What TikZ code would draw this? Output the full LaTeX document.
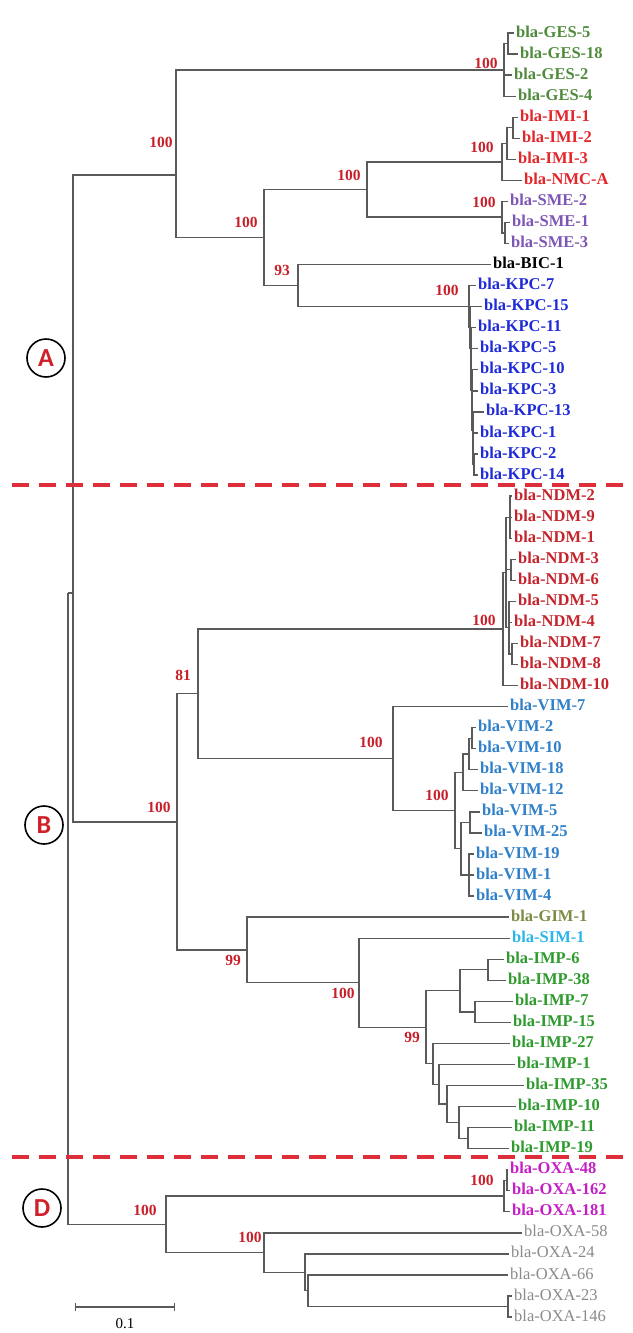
\documentclass[tikz,border=0pt]{standalone}
\usepackage{fontspec}
\setmainfont{Liberation Serif}
\newfontfamily\circfont{Carlito}
\usetikzlibrary{arrows.meta}
\definecolor{treegray}{HTML}{5A5A5A}
\definecolor{bootred}{HTML}{C8202A}
\definecolor{dashred}{HTML}{DD2E3A}
\definecolor{cladered}{HTML}{D0202A}
\definecolor{gesgreen}{HTML}{4F8B3B}
\definecolor{imired}{HTML}{E3262B}
\definecolor{smepurple}{HTML}{7D55B5}
\definecolor{kpcblue}{HTML}{1F2BD6}
\definecolor{ndmred}{HTML}{C4242B}
\definecolor{vimblue}{HTML}{2F80C8}
\definecolor{gimolive}{HTML}{7A8C45}
\definecolor{simcyan}{HTML}{2BB5EA}
\definecolor{impgreen}{HTML}{2E9B2E}
\definecolor{oxamag}{HTML}{C41FC4}
\definecolor{oxagray}{HTML}{8A8A8A}
\begin{document}
\begin{tikzpicture}[x=1pt,y=-1pt,
  branch/.style={draw=treegray, line width=1.3pt},
  leaf/.style={anchor=west, inner xsep=2pt, inner ysep=0pt, text height=11pt, text depth=3pt, font=\fontsize{16.5}{18}\selectfont\bfseries},
  leafplain/.style={leaf, font=\fontsize{16.5}{18}\selectfont},
  boot/.style={text=bootred, inner sep=0pt, font=\fontsize{15.5}{17}\selectfont\bfseries},
  clade/.style={circle, draw=black, line width=1.6pt, minimum size=38pt, inner sep=0pt, text=cladered, font=\circfont\bfseries\fontsize{26}{26}\selectfont},
  sepline/.style={draw=dashred, line width=3.2pt, dash pattern=on 17pt off 10pt},
  scalebar/.style={draw=treegray, line width=1.3pt, {Bar[width=8pt]}-{Bar[width=8pt]}}
]
\useasboundingbox (0,0) rectangle (632,1333);

% ---------- internal nodes ----------
\coordinate (root) at (68,593);
\coordinate (AB) at (73,593);
\coordinate (A) at (176,175);
\coordinate (G) at (504,70);
\coordinate (G1) at (508,43.5);
\coordinate (X) at (264,237.6);
\coordinate (IS) at (367,189.5);
\coordinate (I) at (502,162);
\coordinate (I1) at (507,143.5);
\coordinate (I2) at (513,127.7);
\coordinate (S) at (502,217);
\coordinate (S1) at (505,233);
\coordinate (BK) at (298,285.6);
\coordinate (K1) at (469,306.6);
\coordinate (K2) at (470,327.6);
\coordinate (K3) at (471,348.6);
\coordinate (K4) at (471,369.5);
\coordinate (K5) at (472,390.2);
\coordinate (K6) at (472,410.6);
\coordinate (K7) at (473,430.3);
\coordinate (K8) at (473,448.8);
\coordinate (K9) at (474,464.5);

\coordinate (B) at (177,821.9);
\coordinate (NV) at (198,693.8);
\coordinate (N) at (503,629);
\coordinate (N1) at (506,572.5);
\coordinate (Na) at (510,517.2);
\coordinate (Nc) at (511,569.8);
\coordinate (Nd) at (509,627.7);
\coordinate (Ne) at (512,654);
\coordinate (V) at (393,758.6);
\coordinate (V2) at (455,810.5);
\coordinate (V3) at (463,772.4);
\coordinate (V4) at (469,754);
\coordinate (V5) at (472,738.2);
\coordinate (V6) at (461,848.7);
\coordinate (V7) at (470,822.4);
\coordinate (V8) at (469,875);
\coordinate (GIS) at (247,949.9);
\coordinate (SI) at (359,982.7);
\coordinate (P) at (426,1027.3);
\coordinate (P1) at (460,990.8);
\coordinate (P2) at (488,969.8);
\coordinate (P3) at (475,1011.9);
\coordinate (P4) at (433,1063.8);
\coordinate (P5) at (439,1084.2);
\coordinate (P6) at (447,1104);
\coordinate (P7) at (459,1122.4);
\coordinate (P8) at (468,1138.2);

\coordinate (Dn) at (166,1224.3);
\coordinate (O1) at (504,1196);
\coordinate (O2) at (507,1180.3);
\coordinate (O3) at (264,1252.6);
\coordinate (O4) at (305,1272.4);
\coordinate (O5) at (308,1290.8);
\coordinate (O6) at (508,1306.6);

% ---------- leaves ----------
\node[leaf,text=gesgreen] (ges5) at (514,33.0) {bla-GES-5};
\node[leaf,text=gesgreen] (ges18) at (518,54.1) {bla-GES-18};
\node[leaf,text=gesgreen] (ges2) at (512,75.1) {bla-GES-2};
\node[leaf,text=gesgreen] (ges4) at (516,96.2) {bla-GES-4};
\node[leaf,text=imired] (imi1) at (518,117.2) {bla-IMI-1};
\node[leaf,text=imired] (imi2) at (520,138.3) {bla-IMI-2};
\node[leaf,text=imired] (imi3) at (516,159.3) {bla-IMI-3};
\node[leaf,text=imired] (nmca) at (522,180.4) {bla-NMC-A};
\node[leaf,text=smepurple] (sme2) at (508,201.4) {bla-SME-2};
\node[leaf,text=smepurple] (sme1) at (510,222.5) {bla-SME-1};
\node[leaf,text=smepurple] (sme3) at (509,243.5) {bla-SME-3};
\node[leaf,text=black] (bic1) at (491,264.6) {bla-BIC-1};
\node[leaf,text=kpcblue] (kpc7) at (476,285.6) {bla-KPC-7};
\node[leaf,text=kpcblue] (kpc15) at (482,306.7) {bla-KPC-15};
\node[leaf,text=kpcblue] (kpc11) at (476,327.7) {bla-KPC-11};
\node[leaf,text=kpcblue] (kpc5) at (478,348.8) {bla-KPC-5};
\node[leaf,text=kpcblue] (kpc10) at (478,369.8) {bla-KPC-10};
\node[leaf,text=kpcblue] (kpc3) at (478,390.9) {bla-KPC-3};
\node[leaf,text=kpcblue] (kpc13) at (484,411.9) {bla-KPC-13};
\node[leaf,text=kpcblue] (kpc1) at (478,433.0) {bla-KPC-1};
\node[leaf,text=kpcblue] (kpc2) at (478,454.0) {bla-KPC-2};
\node[leaf,text=kpcblue] (kpc14) at (478,475.1) {bla-KPC-14};

\node[leaf,text=ndmred] (ndm2) at (512,496.1) {bla-NDM-2};
\node[leaf,text=ndmred] (ndm9) at (512,517.2) {bla-NDM-9};
\node[leaf,text=ndmred] (ndm1) at (512,538.2) {bla-NDM-1};
\node[leaf,text=ndmred] (ndm3) at (516,559.3) {bla-NDM-3};
\node[leaf,text=ndmred] (ndm6) at (516,580.3) {bla-NDM-6};
\node[leaf,text=ndmred] (ndm5) at (516,601.4) {bla-NDM-5};
\node[leaf,text=ndmred] (ndm4) at (512,622.4) {bla-NDM-4};
\node[leaf,text=ndmred] (ndm7) at (518,643.5) {bla-NDM-7};
\node[leaf,text=ndmred] (ndm8) at (518,664.5) {bla-NDM-8};
\node[leaf,text=ndmred] (ndm10) at (518,685.6) {bla-NDM-10};
\node[leaf,text=vimblue] (vim7) at (508,706.6) {bla-VIM-7};
\node[leaf,text=vimblue] (vim2) at (476,727.7) {bla-VIM-2};
\node[leaf,text=vimblue] (vim10) at (476,748.7) {bla-VIM-10};
\node[leaf,text=vimblue] (vim18) at (478,769.8) {bla-VIM-18};
\node[leaf,text=vimblue] (vim12) at (478,790.8) {bla-VIM-12};
\node[leaf,text=vimblue] (vim5) at (480,811.9) {bla-VIM-5};
\node[leaf,text=vimblue] (vim25) at (482,832.9) {bla-VIM-25};
\node[leaf,text=vimblue] (vim19) at (474,854.0) {bla-VIM-19};
\node[leaf,text=vimblue] (vim1) at (474,875.0) {bla-VIM-1};
\node[leaf,text=vimblue] (vim4) at (474,896.1) {bla-VIM-4};
\node[leaf,text=gimolive] (gim1) at (509,917.1) {bla-GIM-1};
\node[leaf,text=simcyan] (sim1) at (510,938.2) {bla-SIM-1};
\node[leaf,text=impgreen] (imp6) at (504,959.2) {bla-IMP-6};
\node[leaf,text=impgreen] (imp38) at (506,980.3) {bla-IMP-38};
\node[leaf,text=impgreen] (imp7) at (513,1001.3) {bla-IMP-7};
\node[leaf,text=impgreen] (imp15) at (511,1022.4) {bla-IMP-15};
\node[leaf,text=impgreen] (imp27) at (510,1043.4) {bla-IMP-27};
\node[leaf,text=impgreen] (imp1) at (515,1064.5) {bla-IMP-1};
\node[leaf,text=impgreen] (imp35) at (524,1085.5) {bla-IMP-35};
\node[leaf,text=impgreen] (imp10) at (516,1106.6) {bla-IMP-10};
\node[leaf,text=impgreen] (imp11) at (512,1127.6) {bla-IMP-11};
\node[leaf,text=impgreen] (imp19) at (509,1148.7) {bla-IMP-19};

\node[leaf,text=oxamag] (oxa48) at (508,1169.7) {bla-OXA-48};
\node[leaf,text=oxamag] (oxa162) at (510,1190.8) {bla-OXA-162};
\node[leaf,text=oxamag] (oxa181) at (510,1211.8) {bla-OXA-181};
\node[leafplain,text=oxagray] (oxa58) at (522,1232.9) {bla-OXA-58};
\node[leafplain,text=oxagray] (oxa24) at (509,1253.9) {bla-OXA-24};
\node[leafplain,text=oxagray] (oxa66) at (508,1275.0) {bla-OXA-66};
\node[leafplain,text=oxagray] (oxa23) at (512,1296.0) {bla-OXA-23};
\node[leafplain,text=oxagray] (oxa146) at (512,1317.1) {bla-OXA-146};

% ---------- branches ----------
\draw[branch] (root) -- (AB);
\draw[branch] (root) |- (Dn);
\draw[branch] (AB) |- (A);
\draw[branch] (AB) |- (B);
% A
\draw[branch] (A) |- (G);
\draw[branch] (A) |- (X);
\draw[branch] (G) |- (G1);
\draw[branch] (G1) |- (ges5.west);
\draw[branch] (G1) |- (ges18.west);
\draw[branch] (G) |- (ges2.west);
\draw[branch] (G) |- (ges4.west);
\draw[branch] (X) |- (IS);
\draw[branch] (X) |- (BK);
\draw[branch] (IS) |- (I);
\draw[branch] (IS) |- (S);
\draw[branch] (I) |- (I1);
\draw[branch] (I) |- (nmca.west);
\draw[branch] (I1) |- (I2);
\draw[branch] (I1) |- (imi3.west);
\draw[branch] (I2) |- (imi1.west);
\draw[branch] (I2) |- (imi2.west);
\draw[branch] (S) |- (sme2.west);
\draw[branch] (S) |- (S1);
\draw[branch] (S1) |- (sme1.west);
\draw[branch] (S1) |- (sme3.west);
\draw[branch] (BK) |- (bic1.west);
\draw[branch] (BK) |- (K1);
\draw[branch] (K1) |- (kpc7.west);
\draw[branch] (K1) |- (K2);
\draw[branch] (K2) |- (kpc15.west);
\draw[branch] (K2) |- (K3);
\draw[branch] (K3) |- (kpc11.west);
\draw[branch] (K3) |- (K4);
\draw[branch] (K4) |- (kpc5.west);
\draw[branch] (K4) |- (K5);
\draw[branch] (K5) |- (kpc10.west);
\draw[branch] (K5) |- (K6);
\draw[branch] (K6) |- (kpc3.west);
\draw[branch] (K6) |- (K7);
\draw[branch] (K7) |- (kpc13.west);
\draw[branch] (K7) |- (K8);
\draw[branch] (K8) |- (kpc1.west);
\draw[branch] (K8) |- (K9);
\draw[branch] (K9) |- (kpc2.west);
\draw[branch] (K9) |- (kpc14.west);
% B
\draw[branch] (B) |- (NV);
\draw[branch] (B) |- (GIS);
\draw[branch] (NV) |- (N);
\draw[branch] (NV) |- (V);
\draw[branch] (N) |- (N1);
\draw[branch] (N) |- (ndm10.west);
\draw[branch] (N1) |- (Na);
\draw[branch] (N1) |- (Nc);
\draw[branch] (N1) |- (Nd);
\draw[branch] (Na) |- (ndm2.west);
\draw[branch] (Na) |- (ndm9.west);
\draw[branch] (Na) |- (ndm1.west);
\draw[branch] (Nc) |- (ndm3.west);
\draw[branch] (Nc) |- (ndm6.west);
\draw[branch] (Nd) |- (ndm5.west);
\draw[branch] (Nd) |- (ndm4.west);
\draw[branch] (Nd) |- (Ne);
\draw[branch] (Ne) |- (ndm7.west);
\draw[branch] (Ne) |- (ndm8.west);
\draw[branch] (V) |- (vim7.west);
\draw[branch] (V) |- (V2);
\draw[branch] (V2) |- (V3);
\draw[branch] (V2) |- (V6);
\draw[branch] (V3) |- (V4);
\draw[branch] (V3) |- (vim12.west);
\draw[branch] (V4) |- (V5);
\draw[branch] (V4) |- (vim18.west);
\draw[branch] (V5) |- (vim2.west);
\draw[branch] (V5) |- (vim10.west);
\draw[branch] (V6) |- (V7);
\draw[branch] (V6) |- (V8);
\draw[branch] (V7) |- (vim5.west);
\draw[branch] (V7) |- (vim25.west);
\draw[branch] (V8) |- (vim19.west);
\draw[branch] (V8) |- (vim1.west);
\draw[branch] (V8) |- (vim4.west);
\draw[branch] (GIS) |- (gim1.west);
\draw[branch] (GIS) |- (SI);
\draw[branch] (SI) |- (sim1.west);
\draw[branch] (SI) |- (P);
\draw[branch] (P) |- (P1);
\draw[branch] (P) |- (P4);
\draw[branch] (P1) |- (P2);
\draw[branch] (P1) |- (P3);
\draw[branch] (P2) |- (imp6.west);
\draw[branch] (P2) |- (imp38.west);
\draw[branch] (P3) |- (imp7.west);
\draw[branch] (P3) |- (imp15.west);
\draw[branch] (P4) |- (imp27.west);
\draw[branch] (P4) |- (P5);
\draw[branch] (P5) |- (imp1.west);
\draw[branch] (P5) |- (P6);
\draw[branch] (P6) |- (imp35.west);
\draw[branch] (P6) |- (P7);
\draw[branch] (P7) |- (imp10.west);
\draw[branch] (P7) |- (P8);
\draw[branch] (P8) |- (imp11.west);
\draw[branch] (P8) |- (imp19.west);
% D
\draw[branch] (Dn) |- (O1);
\draw[branch] (Dn) |- (O3);
\draw[branch] (O1) |- (O2);
\draw[branch] (O1) |- (oxa181.west);
\draw[branch] (O2) |- (oxa48.west);
\draw[branch] (O2) |- (oxa162.west);
\draw[branch] (O3) |- (oxa58.west);
\draw[branch] (O3) |- (O4);
\draw[branch] (O4) |- (oxa24.west);
\draw[branch] (O4) |- (O5);
\draw[branch] (O5) |- (oxa66.west);
\draw[branch] (O5) |- (O6);
\draw[branch] (O6) |- (oxa23.west);
\draw[branch] (O6) |- (oxa146.west);

% ---------- bootstrap values ----------
\node[boot] (bA) at (161,142) {100};
\node[boot] (bG) at (486,63) {100};
\node[boot] (bI) at (482,147) {100};
\node[boot] (bIS) at (349,175) {100};
\node[boot] (bX) at (246,222) {100};
\node[boot] (bS) at (484,202) {100};
\node[boot] (bBK) at (282,270) {93};
\node[boot] (bK) at (447,290) {100};
\node[boot] (bN) at (484,620) {100};
\node[boot] (bNV) at (183,675) {81};
\node[boot] (bV) at (371,742) {100};
\node[boot] (bV2) at (437,795) {100};
\node[boot] (bB) at (159,807) {100};
\node[boot] (bGIS) at (233,960) {99};
\node[boot] (bSI) at (343,993) {100};
\node[boot] (bP) at (412,1037) {99};
\node[boot] (bD) at (145,1210) {100};
\node[boot] (bO1) at (482,1180) {100};
\node[boot] (bO3) at (250,1237) {100};

% ---------- group separators and clade marks ----------
\coordinate (s1a) at (12,485); \coordinate (s1b) at (632,485);
\coordinate (s2a) at (12,1157); \coordinate (s2b) at (632,1157);
\draw[sepline] (s1a) -- (s1b);
\draw[sepline] (s2a) -- (s2b);
\node[clade] (cA) at (46,358) {A};
\node[clade] (cB) at (44,825) {B};
\node[clade] (cD) at (42,1208) {D};

% ---------- scale bar ----------
\coordinate (sb1) at (75,1307);
\coordinate (sb2) at (175,1307);
\draw[scalebar] (sb1) -- (sb2);
\node[font=\fontsize{15}{17}\selectfont, inner sep=0pt] (sbl) at (125,1324) {0.1};
\end{tikzpicture}
\end{document}
